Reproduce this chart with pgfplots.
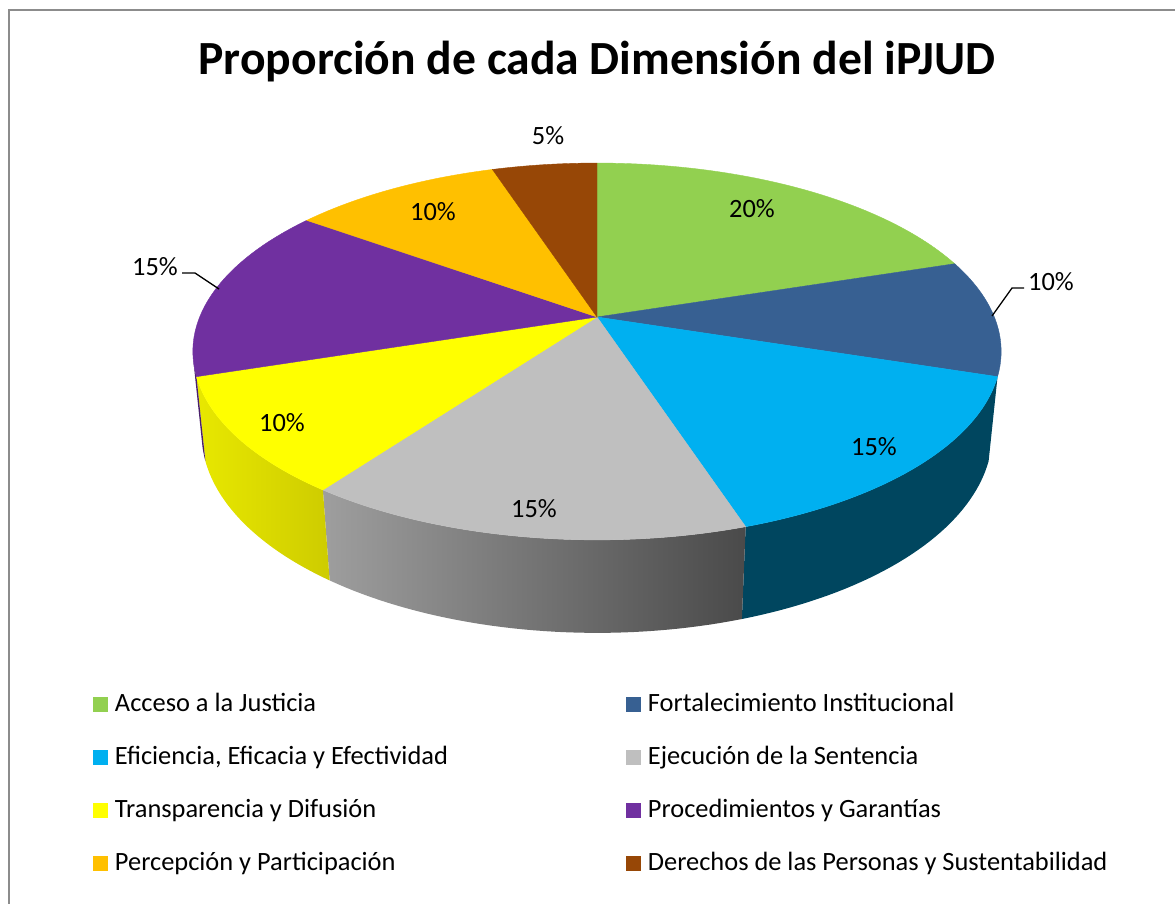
\documentclass[border=0pt]{standalone}
\usepackage{pgfplots}
\pgfplotsset{compat=1.18}
\usepackage{fontspec}
\setmainfont{Carlito}
\definecolor{cAcc}{HTML}{92D050}
\definecolor{cFor}{HTML}{376092}
\definecolor{cEfi}{HTML}{00B0F0}
\definecolor{cEje}{HTML}{BFBFBF}
\definecolor{cTra}{HTML}{FFFF00}
\definecolor{cPro}{HTML}{7030A0}
\definecolor{cPer}{HTML}{FFC000}
\definecolor{cDer}{HTML}{974706}
\definecolor{sEfi}{HTML}{00465F}
\definecolor{sPro}{HTML}{4A1F6B}
% values (percent): Acceso 20, Fortalecimiento 10, Eficiencia 15, Ejecucion 15,
% Transparencia 10, Procedimientos 15, Percepcion 10, Derechos 5
\newcommand{\topslice}[3]{% from cumulative #1 to #2 percent
  \pgfmathsetmacro{\ta}{90-3.6*#2}\pgfmathsetmacro{\tb}{90-3.6*#1}%
  \edef\tmp{\noexpand\addplot[fill=#3, draw=#3, line width=0.4pt, forget plot, domain=\ta:\tb, samples=60, variable=\noexpand\t]}%
  \tmp ({PX(\t,0)},{PY(\t,0)}) -- (axis cs:597,317) -- cycle;
}
\newcommand{\sideband}[3]{% angles #1<#2, style #3
  \addplot[#3, draw=none, forget plot, domain=0:3, samples=121, variable=\u]
   ({PX((#1)+min(\u,1)*((#2)-(#1))-max(\u-2,0)*((#2)-(#1)),min(max(\u-1,0),1))},
    {PY((#1)+min(\u,1)*((#2)-(#1))-max(\u-2,0)*((#2)-(#1)),min(max(\u-1,0),1))});
}
\begin{document}
\begin{tikzpicture}
\begin{axis}[
  scale only axis, width=1175pt, height=904pt,
  xmin=0, xmax=1175, ymin=0, ymax=904, y dir=reverse,
  hide axis, clip=false,
  declare function={
    PX(\a,\s)=597+1935*cos(\a)/(4.87+0.891*sin(\a)+0.1046*\s);
    PY(\a,\s)=317-1958*(0.453*sin(\a)-0.2058*\s)/(4.87+0.891*sin(\a)+0.1046*\s);
  },
  legend columns=2,
  legend cell align=left,
  legend image code/.code={\fill[#1, draw=none] (0pt,-7.5pt) rectangle (15pt,7.5pt);},
  legend style={draw=none, fill=none, inner sep=0pt, outer sep=0pt,
    anchor=north west, at={(93/1175,{1-692/904})},
    font=\fontsize{26.4}{30}\selectfont,
    nodes={inner sep=0pt, text height=20pt, text depth=6pt},
    row sep=27pt,
    /tikz/every odd column/.append style={column sep=7pt},
    /tikz/every even column/.append style={column sep=178pt}},
]
% sides
\sideband{-72}{-18}{fill=sEfi}
\sideband{-126}{-72}{left color=black!38, right color=black!71}
\sideband{-162}{-126}{left color={rgb,255:red,232;green,232;blue,0}, right color={rgb,255:red,206;green,204;blue,0}}
\sideband{-166.7}{-162}{fill=sPro}
% top faces
\topslice{0}{20}{cAcc}
\topslice{20}{30}{cFor}
\topslice{30}{45}{cEfi}
\topslice{45}{60}{cEje}
\topslice{60}{70}{cTra}
\topslice{70}{85}{cPro}
\topslice{85}{95}{cPer}
\topslice{95}{100}{cDer}
% legend
\addlegendimage{fill=cAcc}\addlegendentry{Acceso a la Justicia}
\addlegendimage{fill=cFor}\addlegendentry{Fortalecimiento Institucional}
\addlegendimage{fill=cEfi}\addlegendentry{Eficiencia, Eficacia y Efectividad}
\addlegendimage{fill=cEje}\addlegendentry{Ejecución de la Sentencia}
\addlegendimage{fill=cTra}\addlegendentry{Transparencia y Difusión}
\addlegendimage{fill=cPro}\addlegendentry{Procedimientos y Garantías}
\addlegendimage{fill=cPer}\addlegendentry{Percepción y Participación}
\addlegendimage{fill=cDer}\addlegendentry{Derechos de las Personas y Sustentabilidad}
% frame
\draw[color=black!45, line width=1.5pt] (axis cs:9,904) -- (axis cs:9,10) -- (axis cs:1175,10);
% title
\node[anchor=base, font=\fontsize{47.6}{56}\selectfont\bfseries] at (axis cs:597,75) {Proporción de cada Dimensión del iPJUD};
% leader lines
\draw[line width=1.3pt] (axis cs:992,316) -- (axis cs:1012,288) -- (axis cs:1024,288);
\draw[line width=1.3pt] (axis cs:219,289) -- (axis cs:195,273) -- (axis cs:182,273);
% data labels
\begin{scope}[every node/.style={font=\fontsize{26.4}{30}\selectfont}]
\node at (axis cs:752,209) {20\%};
\node at (axis cs:1051,282) {10\%};
\node at (axis cs:874,447) {15\%};
\node at (axis cs:534,509) {15\%};
\node at (axis cs:282,423) {10\%};
\node at (axis cs:155,267) {15\%};
\node at (axis cs:433,212) {10\%};
\node at (axis cs:548,136) {5\%};
\end{scope}
\end{axis}
\pgfresetboundingbox
\path (current axis.south west) rectangle (current axis.north east);
\end{tikzpicture}
\end{document}
